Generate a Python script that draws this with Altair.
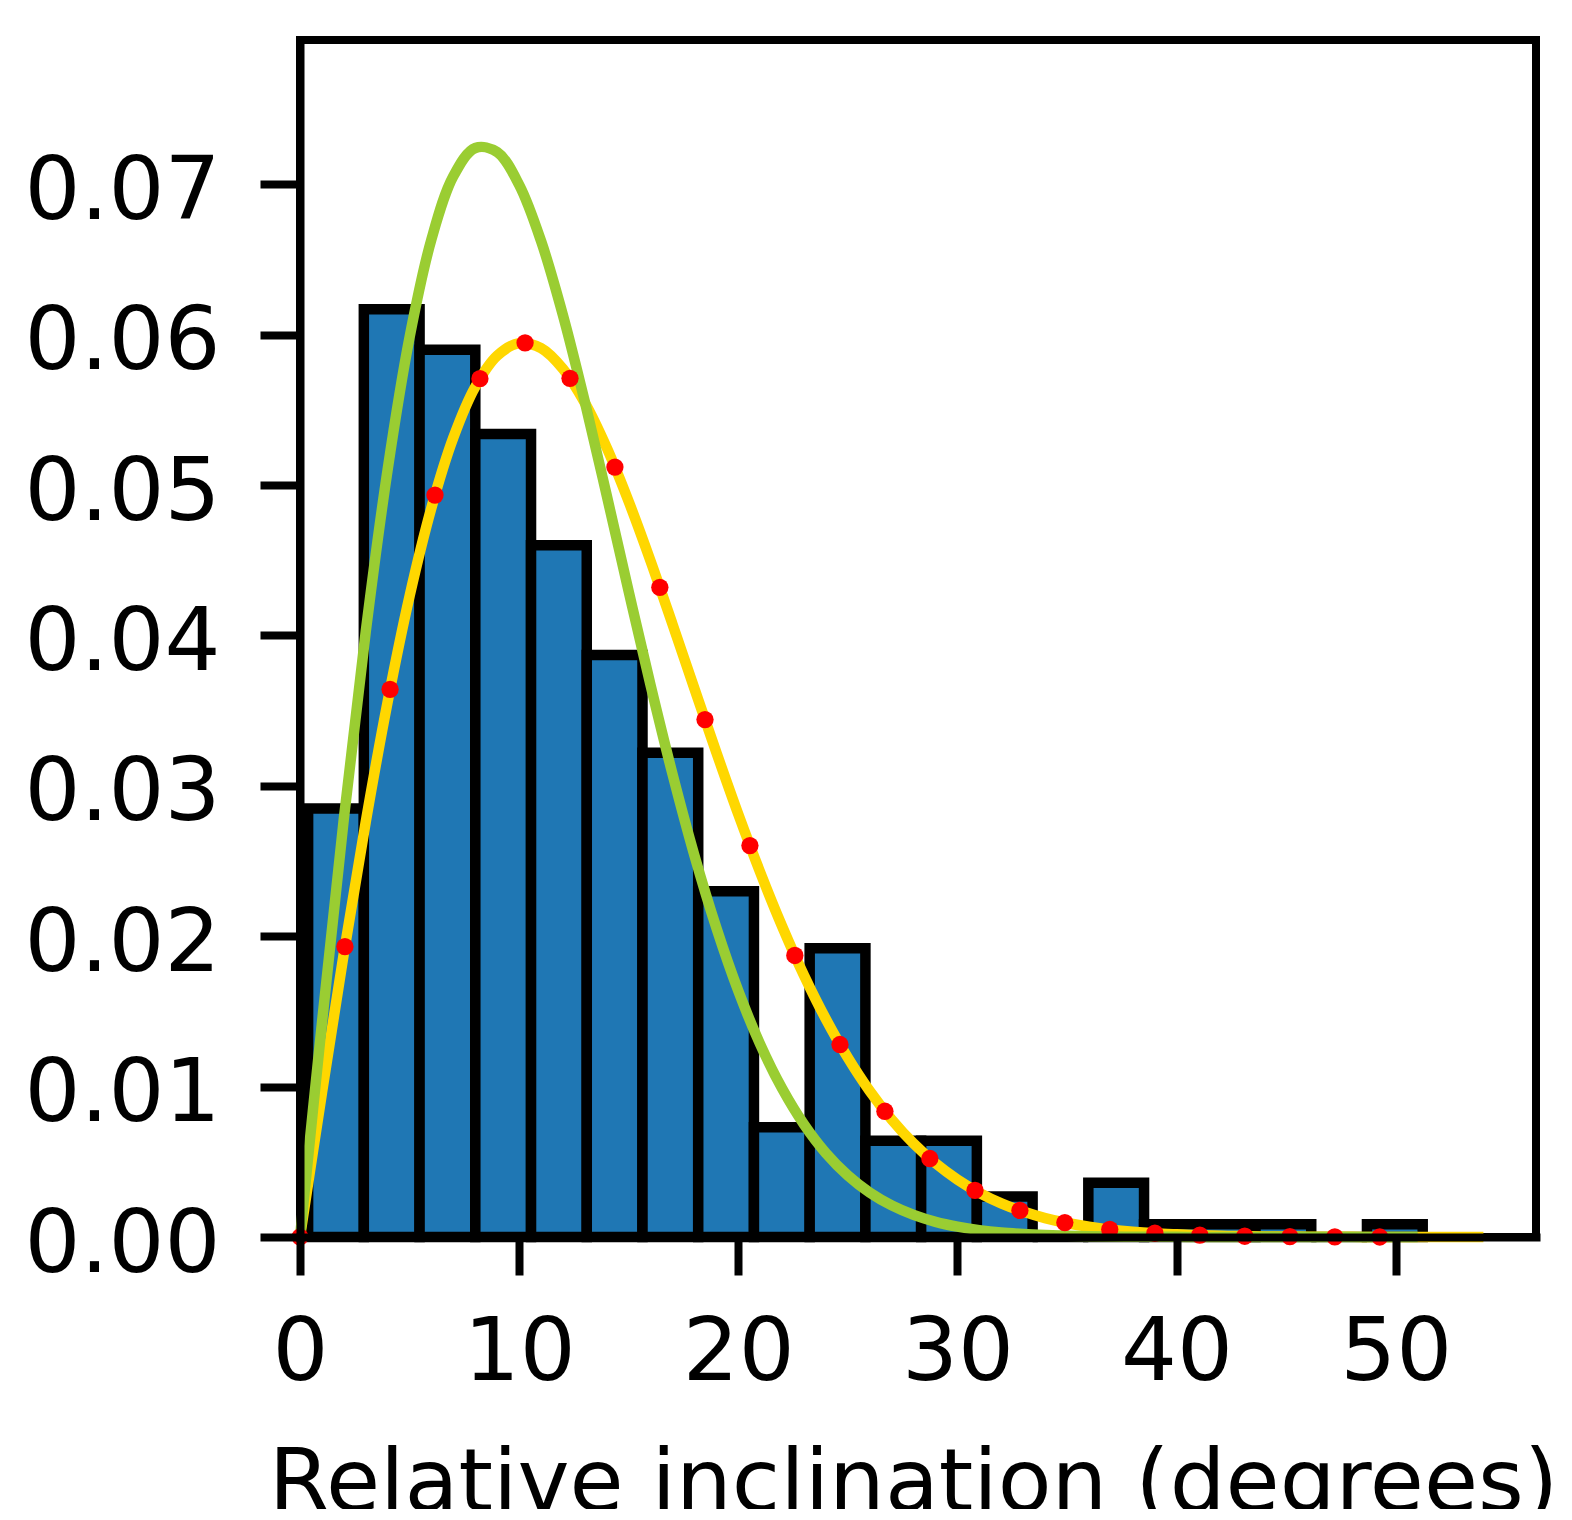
import altair as alt
import pandas as pd

# ---------------- data ----------------
bin_edges = [0.370, 2.913, 5.456, 7.999, 10.542, 13.085, 15.628, 18.171, 20.714,
             23.257, 25.800, 28.343, 30.886, 33.429, 35.972, 38.515, 41.058,
             43.601, 46.144, 48.687, 51.230]
bin_density = [0.0285, 0.0617, 0.0590, 0.0534, 0.0460, 0.0387, 0.0322, 0.0230,
               0.0073, 0.0192, 0.0064, 0.0064, 0.0027, 0.0, 0.0036, 0.00085,
               0.00085, 0.00085, 0.0, 0.00085]

# yellow fitted curve (read every degree)
yellow_x = list(range(0, 55))
yellow_y = [0.0, 0.00957, 0.01886, 0.02761, 0.03560, 0.04262, 0.04851, 0.05317,
            0.05654, 0.05861, 0.05944, 0.05911, 0.05773, 0.05547, 0.05247,
            0.04890, 0.04494, 0.04074, 0.03646, 0.03222, 0.02811, 0.02425,
            0.02066, 0.01739, 0.01448, 0.01192, 0.00970, 0.00781, 0.00622,
            0.00490, 0.00382, 0.00294, 0.00224, 0.00169, 0.00126, 0.00093,
            0.00068, 0.00049, 0.00035, 0.00025, 0.00018, 0.00012, 0.00008,
            0.00006, 0.00004, 0.00003, 0.00002, 0.00001, 0.00001, 0.0, 0.0,
            0.0, 0.0, 0.0, 0.0]

# green fitted curve (read every degree)
green_x = list(range(0, 52))
green_y = [0.0, 0.01421, 0.02781, 0.04025, 0.05104, 0.05983, 0.06636, 0.07055,
           0.07242, 0.07214, 0.06997, 0.06623, 0.06129, 0.05552, 0.04929,
           0.04292, 0.03667, 0.03077, 0.02536, 0.02055, 0.01636, 0.01281,
           0.00987, 0.00748, 0.00557, 0.00409, 0.00295, 0.00210, 0.00147,
           0.00101, 0.00069, 0.00046, 0.00030, 0.00020, 0.00013, 0.00008,
           0.00005, 0.00003, 0.00002, 0.00001, 0.00001, 0.0, 0.0, 0.0, 0.0,
           0.0, 0.0, 0.0, 0.0, 0.0, 0.0, 0.0]

# red markers on the yellow curve
dots_x = [0.0, 2.05, 4.11, 6.16, 8.21, 10.27, 12.32, 14.37, 16.42, 18.48, 20.53,
          22.58, 24.64, 26.69, 28.74, 30.80, 32.85, 34.90, 36.95, 39.01, 41.06,
          43.11, 45.17, 47.22, 49.27]
dots_y = [0.0, 0.01931, 0.03642, 0.04934, 0.05708, 0.05946, 0.05710, 0.05120,
          0.04320, 0.03441, 0.02603, 0.01872, 0.01280, 0.00836, 0.00522,
          0.00310, 0.00177, 0.00096, 0.00050, 0.00025, 0.00012, 0.00005,
          0.00002, 0.00001, 0.0]

x_ticks = [0, 10, 20, 30, 40, 50]
y_ticks = [0.0, 0.01, 0.02, 0.03, 0.04, 0.05, 0.06, 0.07]

# ---------------- tables ----------------
bars_df = pd.DataFrame({"x0": bin_edges[:-1], "x1": bin_edges[1:],
                        "d": bin_density})
yellow_df = pd.DataFrame({"x": yellow_x, "y": yellow_y})
green_df = pd.DataFrame({"x": green_x, "y": green_y})
dots_df = pd.DataFrame({"x": dots_x, "y": dots_y})

FONT = "DejaVu Sans"
FS = 88

xscale = alt.Scale(domain=[0, 56.4], nice=False, zero=False)
yscale = alt.Scale(domain=[0, 0.0796], nice=False)

xaxis = alt.Axis(values=x_ticks, format="d", title="Relative inclination (degrees)",
                 labelFontSize=FS, titleFontSize=FS, labelPadding=34,
                 tickSize=38, titleY=273, titleX=613, titleBaseline="alphabetic",
                 titleAlign="center", labelFlush=False, labelOverlap=False,
                 labelLimit=600, titleLimit=3000, zindex=1)
yaxis = alt.Axis(values=y_ticks, format=".2f", title=None,
                 labelFontSize=FS, labelPadding=40, tickSize=40,
                 labelOffset=8, labelOverlap=False, labelLimit=600, zindex=1)

bars = alt.Chart(bars_df).mark_rect(
    fill="#1f77b4", stroke="black", strokeWidth=10.5
).encode(
    x=alt.X("x0:Q", scale=xscale, axis=xaxis),
    x2="x1:Q",
    y=alt.Y("d:Q", scale=yscale, axis=yaxis),
    y2=alt.datum(0),
)

yellow = alt.Chart(yellow_df).mark_line(
    color="#FFD700", strokeWidth=10.5, interpolate="catmull-rom"
).encode(x="x:Q", y="y:Q")

green = alt.Chart(green_df).mark_line(
    color="#9ACD32", strokeWidth=10.5, interpolate="catmull-rom"
).encode(x="x:Q", y="y:Q")

dots = alt.Chart(dots_df).mark_circle(
    color="red", size=300, opacity=1
).encode(x="x:Q", y="y:Q")

chart = alt.layer(bars, yellow, green, dots).properties(
    width=1236, height=1197,
    autosize=alt.AutoSizeParams(type="none"),
    padding={"left": 292, "top": 32, "right": 28, "bottom": 272},
).configure(font=FONT).configure_view(
    stroke="black", strokeWidth=8
).configure_axis(
    grid=False, labelColor="black", titleColor="black", tickColor="black",
    domainColor="black", domainWidth=8, tickWidth=8, domainCap="square",
    labelFont=FONT, titleFont=FONT, titleFontWeight="normal",
)

chart.save("out.html", embed_options={"renderer": "svg", "actions": False})
